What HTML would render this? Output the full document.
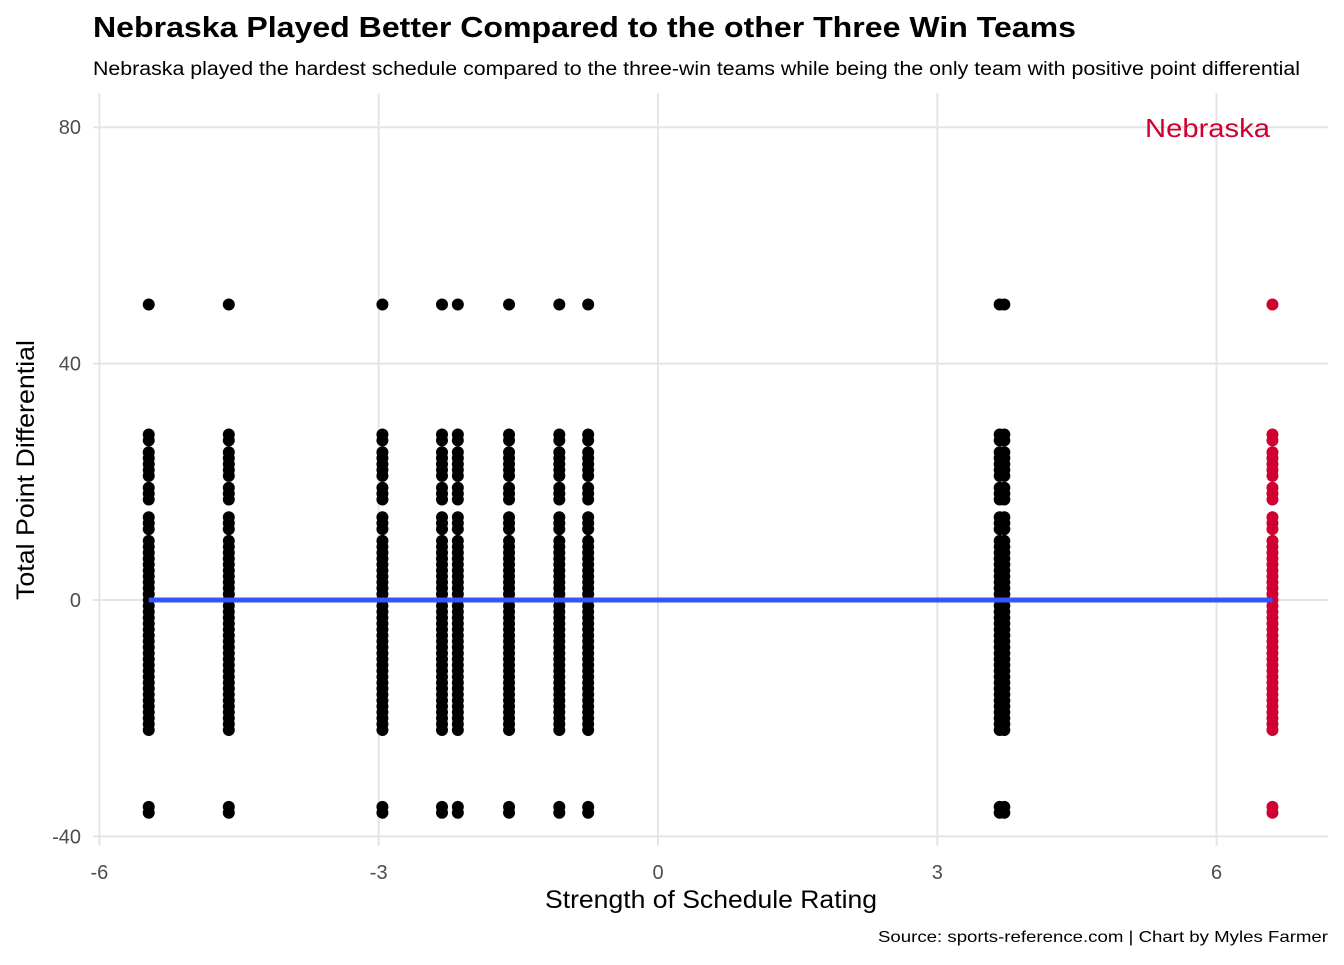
<!DOCTYPE html>
<html><head><meta charset="utf-8"><style>
body{margin:0;background:#fff;font-family:"Liberation Sans",sans-serif}
</style></head><body>
<svg id="chart" width="1344" height="960" xmlns="http://www.w3.org/2000/svg">
<text x="93" y="37" font-size="29" font-weight="bold" textLength="983" lengthAdjust="spacingAndGlyphs">Nebraska Played Better Compared to the other Three Win Teams</text>
<text x="93" y="75" font-size="19" textLength="1207" lengthAdjust="spacingAndGlyphs">Nebraska played the hardest schedule compared to the three-win teams while being the only team with positive point differential</text>
<g id="grid"></g><g id="marks"></g><g id="axes"></g>
<text x="545" y="908" font-size="25" textLength="332" lengthAdjust="spacingAndGlyphs" fill="#000">Strength of Schedule Rating</text>
<text transform="translate(34,600) rotate(-90)" font-size="25" textLength="260" lengthAdjust="spacingAndGlyphs">Total Point Differential</text>
<text x="878" y="942" font-size="16" textLength="450" lengthAdjust="spacingAndGlyphs">Source: sports-reference.com | Chart by Myles Farmer</text>
</svg>
<script>
const teamX=[-5.47,-4.61,-2.96,-2.32,-2.15,-1.60,-1.06,-0.75,3.67,3.72,6.6];
const teamHighlight=[0,0,0,0,0,0,0,0,0,0,1];
const pointDiffs=[50,28,27,25,24,23,22,21,19,18,17,14,13,12,10,9,8,7,6,5,4,3,2,1,0,-1,-2,-3,-4,-5,-6,-7,-8,-9,-10,-11,-12,-13,-14,-15,-16,-17,-18,-19,-20,-21,-22,-35,-36];
const xTicks=[-6,-3,0,3,6];
const yTicks=[-40,0,40,80];
const fitY=0, fitX0=-5.47, fitX1=6.6;
const xs=v=>658+(v*93.1);
const ys=v=>600-(v*5.91);
const NS="http://www.w3.org/2000/svg";
function mk(p,t,a){const e=document.createElementNS(NS,t);for(const k in a)e.setAttribute(k,a[k]);p.appendChild(e);return e;}
const grid=document.getElementById('grid'),marks=document.getElementById('marks'),axes=document.getElementById('axes');
xTicks.forEach(t=>{
 const l=mk(grid,'line',{x1:xs(t),x2:xs(t),y1:93,y2:846,stroke:'#e5e5e5','stroke-width':2});
 
 
 const tx=mk(axes,'text',{x:xs(t),y:879,'font-size':20,'text-anchor':'middle',fill:'#4d4d4d'});tx.textContent=t;
 
 
});
yTicks.forEach(t=>{
 const l=mk(grid,'line',{x1:93,x2:1328,y1:ys(t),y2:ys(t),stroke:'#e5e5e5','stroke-width':2});
 
 
 const tx=mk(axes,'text',{x:81,y:ys(t)+7,'font-size':20,'text-anchor':'end',fill:'#4d4d4d'});tx.textContent=t;
 
 
});
teamX.forEach((x,i)=>{
 pointDiffs.forEach(y=>{
  const c=mk(marks,'circle',{cx:xs(x),cy:ys(y),r:6,fill:teamHighlight[i]?'#d00030':'#000'});
  
  
 });
});
const fl=mk(marks,'line',{x1:xs(fitX0),x2:xs(fitX1),y1:ys(fitY),y2:ys(fitY),stroke:'#3355ff','stroke-width':5});


const lab=mk(marks,'text',{x:1270,y:ys(80)+10,'font-size':26,'text-anchor':'end',fill:'#d00030',textLength:125,lengthAdjust:'spacingAndGlyphs'});lab.textContent='Nebraska';


</script>
</body></html>
